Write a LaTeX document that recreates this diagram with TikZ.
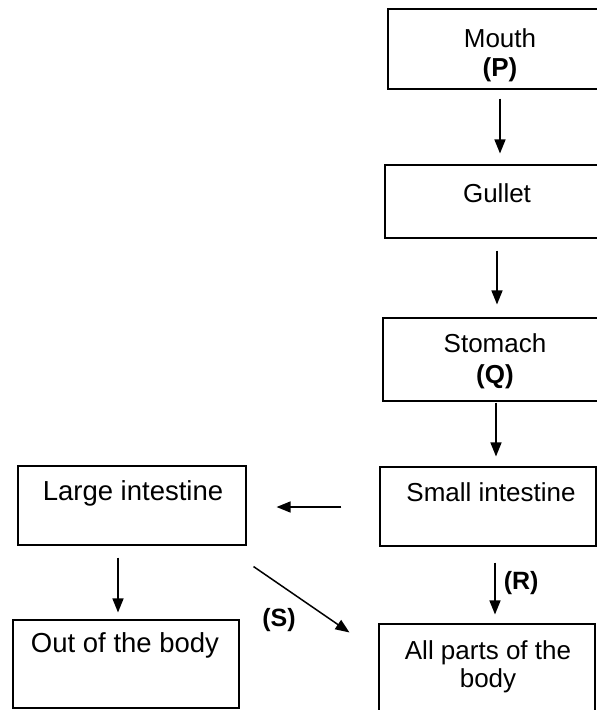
\documentclass[tikz,border=0pt]{standalone}
\usepackage{fontspec}
\setmainfont{Liberation Sans}
\usetikzlibrary{arrows.meta}
\tikzset{
  box/.style={draw=black, line width=1.1pt, rectangle, inner sep=0pt},
  lbl/.style={inner sep=0pt, font=\fontsize{26}{29}\selectfont, align=center},
  lbig/.style={inner sep=0pt, font=\fontsize{27.5}{30}\selectfont, align=center},
  tag/.style={inner sep=0pt, font=\fontsize{25}{29}\selectfont\bfseries},
  arr/.style={line width=1.5pt, -{Triangle[length=14pt,width=11pt]}}
}
\begin{document}
\begin{tikzpicture}[x=1pt,y=-1pt]
\useasboundingbox (0,0) rectangle (597,710);
\clip (0,0) rectangle (597,710);
% boxes
\node[box, minimum width=212pt, minimum height=80pt] (mouth) at (494,49) {};
\node[box, minimum width=215pt, minimum height=73pt] (gullet) at (492.5,201.5) {};
\node[box, minimum width=217pt, minimum height=83pt] (stomach) at (491.5,359.5) {};
\node[box, minimum width=216pt, minimum height=79pt] (small) at (488,506.5) {};
\node[box, minimum width=216pt, minimum height=92pt] (allparts) at (487,670) {};
\node[box, minimum width=228pt, minimum height=79pt] (large) at (132,505.5) {};
\node[box, minimum width=226pt, minimum height=88pt] (out) at (126,664) {};
% texts
\node[lbl, anchor=north] (tmouth) at (500,28) {Mouth\\[0pt]\textbf{(P)}};
\node[lbl] (tgullet) at (497,193) {Gullet};
\node[lbl, anchor=north, font=\fontsize{26}{31}\selectfont] (tstomach) at (495,333) {Stomach\\\textbf{(Q)}};
\node[lbl] (tsmall) at (491,492) {Small intestine};
\node[lbl, anchor=north, font=\fontsize{26}{28}\selectfont] (tall) at (488,640) {All parts of the\\body};
\node[lbig] (tlarge) at (133,493) {Large intestine};
\node[lbig] (tout) at (125,645) {Out of the body};
% arrows
\draw[arr] ([xshift=6pt,yshift=-9pt]mouth.south) -- ([xshift=7.5pt,yshift=11pt]gullet.north);
\draw[arr] ([xshift=4.5pt,yshift=-12pt]gullet.south) -- ([xshift=5.5pt,yshift=13pt]stomach.north);
\draw[arr] ([xshift=4.5pt,yshift=-1pt]stomach.south) -- ([xshift=8pt,yshift=10pt]small.north);
\draw[arr] ([xshift=7pt,yshift=-16pt]small.south) -- ([xshift=8pt,yshift=9pt]allparts.north)
  node[tag, pos=0.4, right=8pt] (rlab) {(R)};
\draw[arr] ([xshift=-38pt,yshift=-0.5pt]small.west) -- ([xshift=30pt,yshift=-1.5pt]large.east);
\draw[arr] ([xshift=-14pt,yshift=-12pt]large.south) -- ([xshift=-8pt,yshift=7pt]out.north);
\draw[arr] ([xshift=7pt,yshift=-21pt]large.south east) -- ([xshift=-29pt,yshift=-9pt]allparts.north west);
\node[tag] (slab) at (279,620) {(S)};
\end{tikzpicture}
\end{document}
